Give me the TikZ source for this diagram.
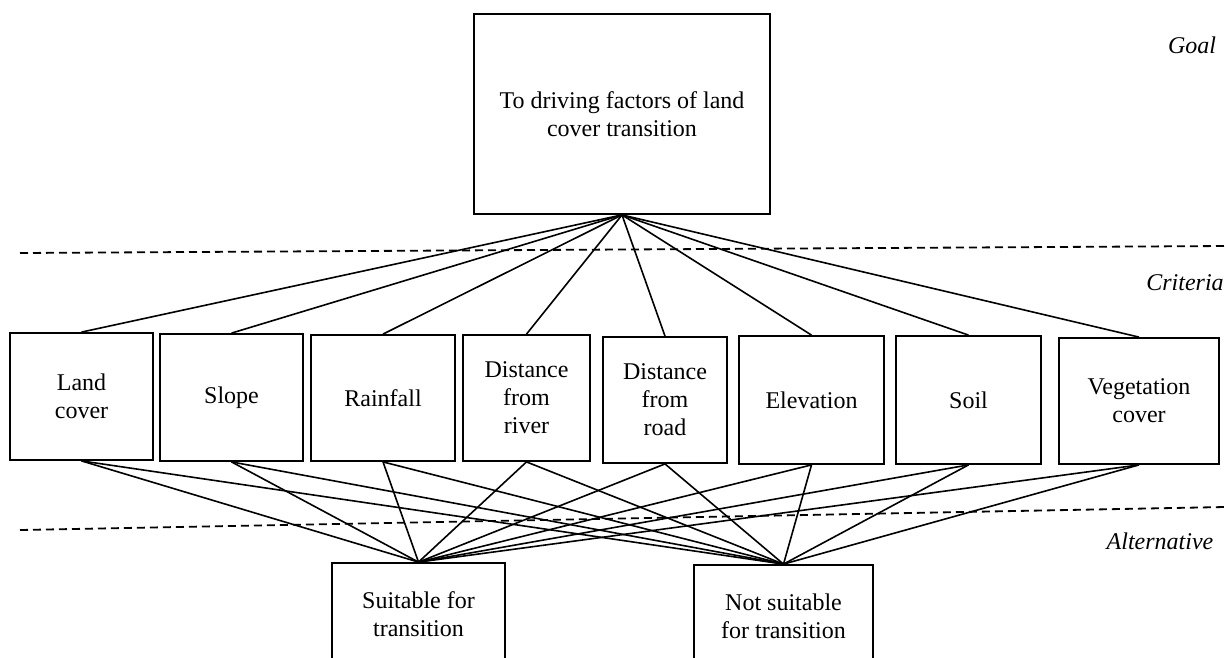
\documentclass[tikz,border=0pt]{standalone}
\usepackage{fontspec}
\setmainfont{Liberation Serif}
\begin{document}
\begin{tikzpicture}[x=1pt,y=-1pt,
  box/.style={draw,line width=1.8pt,align=center,inner sep=0pt,font=\fontsize{24}{28}\selectfont},
  level/.style={font=\fontsize{24}{28}\selectfont\itshape},
  link/.style={line width=1.6pt},
  sep/.style={line width=1.8pt,dash pattern=on 8pt off 5pt}]
\useasboundingbox (0,0) rectangle (1225,657);
\node[box,minimum width=296pt,minimum height=200pt] (G) at (622,114) {To driving factors of land\\cover transition};
\node[level] (goal) at (1192,45) {Goal};
\node[level] (crit) at (1185,283) {Criteria};
\node[level] (alt) at (1160,541) {Alternative};
\coordinate (d1l) at (20,253);
\coordinate (d1r) at (1225,246);
\coordinate (d2l) at (20,530);
\coordinate (d2r) at (1225,507);
\node[box,minimum width=143pt,minimum height=127pt] (C1) at (81.5,396.5) {Land\\cover};
\node[box,minimum width=143pt,minimum height=127pt] (C2) at (231.5,397.5) {Slope};
\node[box,minimum width=144pt,minimum height=126pt] (C3) at (383,398) {Rainfall};
\node[box,minimum width=127pt,minimum height=126pt] (C4) at (526.5,398) {Distance\\from\\river};
\node[box,minimum width=124pt,minimum height=126pt] (C5) at (665,400) {Distance\\from\\road};
\node[box,minimum width=145pt,minimum height=128pt] (C6) at (811.5,400) {Elevation};
\node[box,minimum width=145pt,minimum height=128pt] (C7) at (968.5,400) {Soil};
\node[box,minimum width=160pt,minimum height=126pt] (C8) at (1139,401) {Vegetation\\cover};
\node[box,minimum width=173pt,minimum height=102pt] (S) at (418.5,614) {Suitable for\\transition};
\node[box,minimum width=179pt,minimum height=102pt] (N) at (783.5,616) {Not suitable\\for transition};
% separators
\draw[sep] (d1l) -- (d1r);
\draw[sep] (d2l) -- (d2r);
% goal to criteria
\foreach \i in {1,...,8}
  \draw[link] (G.south) -- (C\i.north);
% criteria to alternatives
\foreach \i in {1,...,8}{
  \draw[link] (C\i.south) -- (S.north);
  \draw[link] (C\i.south) -- (N.north);
}
\end{tikzpicture}
\end{document}
